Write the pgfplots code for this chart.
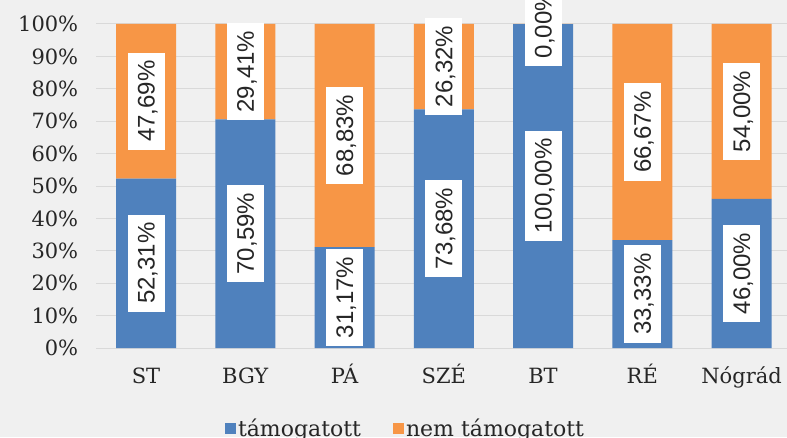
\documentclass[border=0pt]{standalone}
\usepackage{pgfplots}
\usepackage{pgfplotstable}
\pgfplotsset{compat=1.18}
\usepackage{fontspec}
\setmainfont{DejaVu Serif}
\newfontfamily\lblfont{Liberation Sans}
\definecolor{cblue}{HTML}{4F81BD}
\definecolor{corange}{HTML}{F79646}
\definecolor{bgc}{HTML}{F0F0F0}
\definecolor{gridc}{HTML}{D9D9D9}
\pgfplotstableread{
x a b
0 52.31 47.69
1 70.59 29.41
2 31.17 68.83
3 73.68 26.32
4 99.999 0.001
5 33.33 66.67
6 46.00 54.00
}\datatable
\begin{document}
\begin{tikzpicture}
\fill[bgc] (0,0) rectangle (787pt,437pt);
\begin{axis}[
  at={(96.4pt,89pt)}, anchor=south west,
  scale only axis, width=694.75pt, height=324pt,
  ybar stacked, bar width=60pt,
  xmin=-0.5, xmax=6.5, ymin=0, ymax=100,
  enlargelimits=false,
  clip=false,
  xtick={0,...,6}, xticklabels={ST,BGY,PÁ,SZÉ,BT,RÉ,Nógrád},
  ytick={0,10,...,100},
  yticklabels={0\%,10\%,20\%,30\%,40\%,50\%,60\%,70\%,80\%,90\%,100\%},
  ymajorgrids, grid style={gridc, line width=1pt},
  axis x line*=bottom, axis y line*=left,
  y axis line style={draw=none},
  x axis line style={gridc, line width=1pt, -},
  major tick length=0pt, tick style={draw=none},
  tick label style={font=\fontsize{21}{25}\selectfont, text=black!85},
  yticklabel style={anchor=east, inner sep=0pt, xshift=-18pt},
  xticklabel style={anchor=base, inner sep=0pt, yshift=-35pt},
  point meta=explicit,
  nodes near coords={\pgfmathprintnumber[fixed,fixed zerofill,precision=2,use comma,assume math mode=true]{\pgfplotspointmeta}\%},
  nodes near coords style={font=\lblfont\fontsize{24}{28}\selectfont, fill=white, rotate=90, anchor=center, inner xsep=8pt, inner ysep=10pt, text height=17pt, text depth=0pt, text=black!85},
  legend columns=2,
  legend style={at={(axis description cs:0.445,-0.247)}, anchor=center, draw=none, fill=none,
    font=\fontsize{22}{26}\selectfont, text=black!85,
    /tikz/every even column/.append style={column sep=30pt}},
]
\addplot[fill=cblue, draw=none, legend image code/.code={\fill[cblue] (0pt,-5.5pt) rectangle (11pt,5.5pt);}] table[x=x, y=a, meta=a] {\datatable};
\addplot[fill=corange, draw=none, legend image code/.code={\fill[corange] (0pt,-5.5pt) rectangle (11pt,5.5pt);}] table[x=x, y=b, meta=b] {\datatable};
\legend{támogatott, nem támogatott}
\end{axis}
\pgfresetboundingbox
\path[use as bounding box] (0,0) rectangle (787pt,437pt);
\end{tikzpicture}
\end{document}
